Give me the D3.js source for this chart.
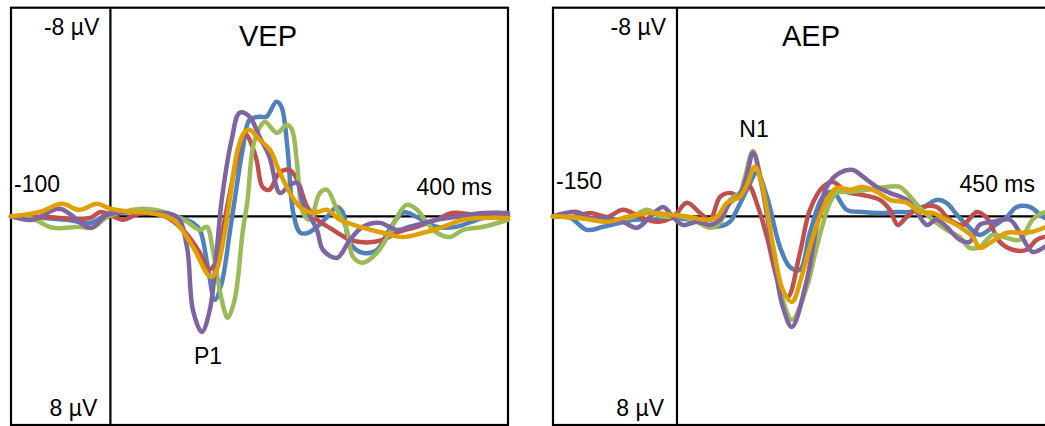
<!DOCTYPE html>
<html><head><meta charset="utf-8">
<script src="https://cdn.jsdelivr.net/npm/d3@7/dist/d3.min.js"></script>
<style>html,body{margin:0;padding:0;background:#fff;}svg{display:block;font-family:"Liberation Sans",Arial,sans-serif;}</style>
</head><body>
<svg id="c" width="1045" height="426"></svg>
<script>
// ---- data: [time ms, amplitude µV] (positive plotted downward) ----
const seriesNames = ["blue","red","green","purple","orange"];
const seriesColors = ["#4f81bd","#c0504d","#9bbb59","#8064a2","#e0a000"];

const vepBlue = [[-100,0],[-68,0.06],[-44,0.13],[-20,0.25],[0,-0.13],[30,-0.17],[55,-0.1],[70,0.06],[83,0.25],[90,0.52],[98,1.94],[105,3.2],[112,2.55],[120,0.63],[125,-0.63],[133,-2.55],[140,-3.7],[150,-3.82],[157,-3.82],[167,-4.39],[172,-4.2],[178,-2.67],[184,-0.13],[191,0.63],[199,0.63],[208,0.4],[218,0.02],[228,-0.36],[234,-0.13],[241,1.02],[254,1.4],[268,1.29],[280,0.55],[295,-0.15],[308,0.02],[328,0.4],[348,0.4],[369,0.13],[389,-0.06],[400,0.02]];
const vepRed = [[-100,0],[-70,0.02],[-20,0.06],[-10,-0.17],[13,0.13],[23,-0.02],[33,-0.13],[55,0],[73,0.52],[90,1.4],[99,2.05],[107,1.67],[115,0.13],[125,-1.78],[135,-3.2],[140,-2.94],[147,-2.17],[153,-1.13],[160,-1.02],[170,-1.67],[180,-1.78],[188,-1.4],[198,-0.36],[208,0.13],[221,0.45],[241,0.9],[258,1.0],[274,0.9],[288,0.63],[308,0.4],[328,0.13],[344,-0.13],[368,-0.06],[389,-0.13],[400,-0.06]];
const vepGreen = [[-100,0],[-78,0.1],[-58,0.44],[-31,0.4],[-18,0.44],[-3,0.02],[33,-0.29],[63,-0.06],[77,0.21],[90,0.52],[97,0.4],[103,1.29],[112,3.2],[118,3.89],[125,3.2],[133,0.63],[138,-0.63],[143.5,-2.67],[150.5,-3.43],[155.5,-3.63],[167.6,-3.2],[177.7,-3.51],[182.7,-3.32],[187.7,-2.05],[193.8,-0.13],[200.8,0.13],[210.8,-0.9],[217.8,-1.02],[228,-0.25],[238,0.52],[244,1.55],[254,1.78],[268,1.4],[281,0.63],[288,0.05],[298,-0.44],[308.5,-0.25],[318.5,0.25],[328.5,0.63],[341.6,0.79],[354.8,0.52],[375,0.4],[400,0.13]];
const vepPurple = [[-100,0],[-78,0.13],[-51,-0.29],[-20,0.44],[-3,-0.06],[40,-0.13],[67,0.02],[77,1.17],[83,3.59],[92,4.43],[100,3.59],[107,1.29],[112,-0.63],[122,-2.94],[130,-3.97],[140,-3.82],[150,-3.05],[160,-2.28],[170.6,-0.9],[180.6,-1.21],[187.7,-1.29],[193.8,-0.52],[207.8,0.52],[213.9,1.29],[228,1.59],[241,0.9],[254,0.4],[271,0.25],[288,0.52],[301,0.4],[328.5,0.13],[348.6,0.02],[374.8,-0.13],[400,-0.13]];
const vepOrange = [[-100,0],[-71,-0.17],[-49,-0.48],[-31,-0.25],[-13.5,-0.48],[0,-0.29],[23,-0.17],[40,-0.13],[63,0.13],[83,1.17],[98,2.24],[102,2.32],[107,2.05],[115,0.63],[120,-0.63],[128,-2.55],[135,-3.24],[140,-3.32],[150,-2.94],[160.5,-2.55],[170.6,-1.67],[180.6,-0.9],[190.7,-0.36],[203.8,-0.13],[217.9,-0.25],[230.9,0.13],[251,0.4],[274,0.63],[294,0.79],[314.6,0.63],[334.7,0.4],[354.8,0.13],[375,0.06],[400,0.06]];

const aepBlue = [[-150,0],[-129,0.06],[-109,0.52],[-89.5,0.4],[-69,0.25],[-53,0.13],[-32.6,0.13],[-4.8,0.06],[15.7,0.13],[36.3,0.33],[48.4,0.4],[64,0.21],[72.5,-0.25],[84.6,-1.02],[96.7,-1.67],[108.8,-0.75],[124.5,1.17],[136.6,1.94],[148.7,2.05],[160.8,0.63],[176.5,-0.75],[188.6,-0.94],[205.5,-0.25],[224.9,-0.17],[245.4,-0.13],[266,-0.17],[281.7,-0.17],[297.4,-0.33],[314,-0.63],[326,-0.52],[338.5,-0.06],[350.6,0.33],[366.3,0.71],[382,0.4],[399,0.02],[411,-0.36],[426.8,-0.36],[442.5,0.02],[450,0.13]];
const aepRed = [[-150,0],[-125.7,0.02],[-105,-0.13],[-84.6,0.02],[-65.3,-0.25],[-44.7,0.02],[-24.2,0.21],[-4.8,0.02],[12.1,-0.52],[27.8,-0.13],[39.9,0.13],[52,-0.75],[64,-0.9],[72.5,-0.82],[85.8,-1.21],[98,-0.36],[108.8,0.79],[124.5,2.71],[134,3.09],[148.7,1.4],[160.8,-0.25],[176.5,-1.13],[188.6,-1.32],[205.5,-0.94],[224.9,-0.82],[245.4,-0.63],[257.5,-0.25],[267,0.33],[278,0.02],[293.8,-0.33],[314,-0.36],[330,0.13],[345.8,0.33],[362.7,-0.17],[374.8,0.06],[390.5,0.98],[406,1.28],[423,1.28],[435,0.9],[450,0.75]];
const aepGreen = [[-150,0],[-117,0.06],[-84.6,0.13],[-57,0.06],[-36.3,-0.25],[-20.5,0],[3.6,0],[24.2,0.21],[39.9,0.44],[52,0.25],[64,-0.63],[76,-0.9],[82,-1.48],[91.9,-2.51],[102.8,-1.21],[116,1.28],[128,3.2],[139,3.97],[157,2.71],[169,1.17],[185,-0.52],[193.4,-0.9],[209,-0.94],[230,-1.02],[254,-1.13],[269.6,-1.13],[278,-0.9],[293.8,-0.33],[309.5,0.13],[326,0.52],[342,0.79],[354,1.21],[366.3,1.17],[382,0.71],[399,0.83],[414.7,0.9],[430,0.13],[442.5,-0.13],[450,-0.17]];
const aepPurple = [[-150,0],[-121,-0.17],[-105,0.06],[-84.6,0.06],[-65.3,0.21],[-48.4,0.44],[-32.6,0.02],[-16.9,-0.36],[-4.8,0.02],[7.3,0.33],[24.2,0.21],[39.9,0.33],[52,0.13],[64,-0.52],[76,-0.82],[84.6,-1.59],[91.9,-2.44],[102.8,-1.13],[116,1.4],[128,3.47],[139,4.24],[157,2.44],[169,0.4],[181,-1.13],[197,-1.67],[212.8,-1.78],[224.9,-1.52],[241.8,-1.13],[257.5,-0.9],[278,-0.63],[290,-0.17],[302,0.33],[314,0.13],[326,0.4],[342,0.9],[354,0.98],[366,0.33],[382,0.21],[402.6,0.13],[414.7,0.63],[430,1.36],[445,1.17],[450,1.09]];
const aepOrange = [[-150,0],[-117,0.06],[-84.6,0.21],[-60.5,0.02],[-32.6,-0.13],[-4.8,-0.06],[15.7,0.02],[36.3,0.13],[48.4,0.02],[60.5,-0.52],[76,-0.75],[84.6,-1.21],[94.3,-1.9],[102.8,-1.21],[116,1.09],[128,2.82],[139,3.28],[152,2.17],[164.4,0.79],[181.4,-0.63],[193.4,-1.09],[209,-1.02],[224.9,-1.13],[241.8,-0.94],[257.5,-0.63],[278,-0.52],[293.8,-0.17],[309.5,-0.13],[326,0.13],[342,0.4],[357.9,0.79],[366.3,1.21],[378.4,1.02],[399,0.63],[414.7,0.63],[430,0.59],[450,0.36]];

const vepDomain = [-100, 400];
const aepDomain = [-150, 450];
const ampDomain = [-8, 8];
const vepTickLabels = ["-100", "400 ms"];
const aepTickLabels = ["-150", "450 ms"];
const ampTickLabels = ["-8 µV", "8 µV"];
const titles = ["VEP", "AEP"];
const peakLabels = ["P1", "N1"];

// ---- drawing ----
const svg = d3.select("#c");

function panel(cfg) {
  const x = d3.scaleLinear().domain(cfg.domain).range(cfg.xRange);
  const y = d3.scaleLinear().domain(ampDomain).range([7.7, 425]);
  const g = svg.append("g");
  g.append("rect").attr("x", cfg.xRange[0]).attr("y", y(ampDomain[0]))
    .attr("width", cfg.xRange[1] - cfg.xRange[0]).attr("height", y(ampDomain[1]) - y(ampDomain[0]))
    .attr("fill", "none").attr("stroke", "#000").attr("stroke-width", 2.2);
  g.append("line").attr("x1", x(0)).attr("x2", x(0)).attr("y1", y(ampDomain[0])).attr("y2", y(ampDomain[1]))
    .attr("stroke", "#000").attr("stroke-width", 2.2);
  g.append("line").attr("x1", x(0)).attr("x2", x(cfg.domain[1])).attr("y1", y(0)).attr("y2", y(0))
    .attr("stroke", "#000").attr("stroke-width", 2.2);
  const line = d3.line().x(d => x(d[0])).y(d => y(d[1])).curve(d3.curveCatmullRom.alpha(0.5));
  cfg.data.forEach((s, i) => {
    g.append("path").attr("d", line(s)).attr("fill", "none")
      .attr("stroke", seriesColors[i]).attr("stroke-width", 4.5)
      .attr("stroke-linejoin", "round").attr("stroke-linecap", "round");
  });
  const t = (txt, px, py, anchor, size) => g.append("text").text(txt).attr("x", px).attr("y", py)
    .attr("text-anchor", anchor).attr("font-size", size).attr("fill", "#000");
  t(ampTickLabels[0], x(0) - 11, 35, "end", 23);
  t(ampTickLabels[1], x(0) - 13, 416, "end", 23);
  t(cfg.ticks[0], x(cfg.domain[0]) + 3, cfg.tickY0, "start", 23);
  t(cfg.ticks[1], cfg.endLabelX, cfg.tickY1, "end", 23);
  t(cfg.title, cfg.titleX, 46, "middle", 29);
  t(cfg.peak, cfg.peakX, cfg.peakY, "middle", 23);
}

panel({domain: vepDomain, xRange: [11, 508], data: [vepBlue, vepRed, vepGreen, vepPurple, vepOrange],
  ticks: vepTickLabels, tickY0: 192, tickY1: 195, endLabelX: 492, title: titles[0], titleX: 268,
  peak: peakLabels[0], peakX: 208, peakY: 364});
panel({domain: aepDomain, xRange: [553, 1049], data: [aepBlue, aepRed, aepGreen, aepPurple, aepOrange],
  ticks: aepTickLabels, tickY0: 189, tickY1: 192, endLabelX: 1035, title: titles[1], titleX: 811,
  peak: peakLabels[1], peakX: 754, peakY: 137});
</script>
</body></html>
